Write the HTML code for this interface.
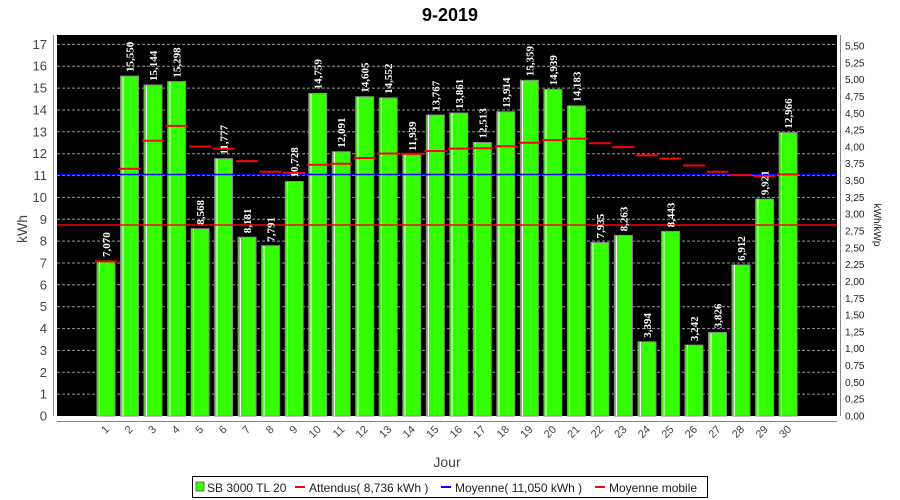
<!DOCTYPE html>
<html><head><meta charset="utf-8"><style>body{margin:0;background:#fff}svg{display:block}</style></head><body>
<svg width="900" height="500" xmlns="http://www.w3.org/2000/svg" font-family="Liberation Sans, sans-serif">
<rect width="900" height="500" fill="#fff"/>
<text x="450" y="21" text-anchor="middle" font-size="18" font-weight="bold" fill="#000">9-2019</text>
<rect x="57" y="35" width="780" height="381" fill="#000"/>
<g stroke="#999" stroke-dasharray="3,2" stroke-width="1">
<line x1="57" x2="837" y1="394.1" y2="394.1"/><line x1="57" x2="837" y1="372.3" y2="372.3"/><line x1="57" x2="837" y1="350.4" y2="350.4"/><line x1="57" x2="837" y1="328.6" y2="328.6"/><line x1="57" x2="837" y1="306.7" y2="306.7"/><line x1="57" x2="837" y1="284.8" y2="284.8"/><line x1="57" x2="837" y1="263.0" y2="263.0"/><line x1="57" x2="837" y1="241.1" y2="241.1"/><line x1="57" x2="837" y1="219.3" y2="219.3"/><line x1="57" x2="837" y1="197.4" y2="197.4"/><line x1="57" x2="837" y1="175.5" y2="175.5"/><line x1="57" x2="837" y1="153.7" y2="153.7"/><line x1="57" x2="837" y1="131.8" y2="131.8"/><line x1="57" x2="837" y1="110.0" y2="110.0"/><line x1="57" x2="837" y1="88.1" y2="88.1"/><line x1="57" x2="837" y1="66.2" y2="66.2"/><line x1="57" x2="837" y1="44.4" y2="44.4"/>
</g>
<g fill="#33ff00" stroke="#888" stroke-width="1">
<rect x="97" y="261.4" width="18" height="154.6"/><rect x="120.5" y="76.1" width="18" height="339.9"/><rect x="144" y="85" width="18" height="331"/><rect x="167.6" y="81.6" width="18" height="334.4"/><rect x="191.1" y="228.7" width="18" height="187.3"/><rect x="214.6" y="158.6" width="18" height="257.4"/><rect x="238.1" y="237.2" width="18" height="178.8"/><rect x="261.6" y="245.7" width="18" height="170.3"/><rect x="285.2" y="181.5" width="18" height="234.5"/><rect x="308.7" y="93.4" width="18" height="322.6"/><rect x="332.2" y="151.7" width="18" height="264.3"/><rect x="355.7" y="96.7" width="18" height="319.3"/><rect x="379.2" y="97.9" width="18" height="318.1"/><rect x="402.8" y="155" width="18" height="261"/><rect x="426.3" y="115" width="18" height="301"/><rect x="449.8" y="113" width="18" height="303"/><rect x="473.3" y="142.5" width="18" height="273.5"/><rect x="496.8" y="111.8" width="18" height="304.2"/><rect x="520.4" y="80.3" width="18" height="335.7"/><rect x="543.9" y="89.4" width="18" height="326.6"/><rect x="567.4" y="105.9" width="18" height="310.1"/><rect x="590.9" y="242.5" width="18" height="173.5"/><rect x="614.4" y="235.4" width="18" height="180.6"/><rect x="638" y="341.8" width="18" height="74.2"/><rect x="661.5" y="231.4" width="18" height="184.6"/><rect x="685" y="345.1" width="18" height="70.9"/><rect x="708.5" y="332.4" width="18" height="83.6"/><rect x="732" y="264.9" width="18" height="151.1"/><rect x="755.6" y="199.1" width="18" height="216.9"/><rect x="779.1" y="132.6" width="18" height="283.4"/>
</g>
<g stroke="#fff" stroke-width="1">
<line x1="99.5" x2="99.5" y1="262" y2="416"/><line x1="123" x2="123" y1="77" y2="416"/><line x1="146.5" x2="146.5" y1="86" y2="416"/><line x1="170" x2="170" y1="82" y2="416"/><line x1="193.5" x2="193.5" y1="229" y2="416"/><line x1="217" x2="217" y1="159" y2="416"/><line x1="240.5" x2="240.5" y1="238" y2="416"/><line x1="264" x2="264" y1="246" y2="416"/><line x1="287.5" x2="287.5" y1="182" y2="416"/><line x1="311" x2="311" y1="94" y2="416"/><line x1="334.5" x2="334.5" y1="152" y2="416"/><line x1="358" x2="358" y1="97" y2="416"/><line x1="381.5" x2="381.5" y1="98" y2="416"/><line x1="405" x2="405" y1="155" y2="416"/><line x1="428.5" x2="428.5" y1="115" y2="416"/><line x1="452" x2="452" y1="113" y2="416"/><line x1="475.5" x2="475.5" y1="143" y2="416"/><line x1="499" x2="499" y1="112" y2="416"/><line x1="522.5" x2="522.5" y1="81" y2="416"/><line x1="546" x2="546" y1="90" y2="416"/><line x1="569.5" x2="569.5" y1="106" y2="416"/><line x1="593" x2="593" y1="243" y2="416"/><line x1="616.5" x2="616.5" y1="236" y2="416"/><line x1="640.5" x2="640.5" y1="342" y2="416"/><line x1="664" x2="664" y1="232" y2="416"/><line x1="687.5" x2="687.5" y1="345" y2="416"/><line x1="711" x2="711" y1="333" y2="416"/><line x1="734.5" x2="734.5" y1="265" y2="416"/><line x1="758" x2="758" y1="199" y2="416"/><line x1="781.5" x2="781.5" y1="133" y2="416"/>
</g>
<line x1="57" x2="837" y1="225" y2="225" stroke="#ff0000" stroke-width="1.5"/>
<line x1="57" x2="837" y1="174.5" y2="174.5" stroke="#0000ff" stroke-width="1.5"/>
<g stroke="#ff0000" stroke-width="2">
<line x1="95" x2="117" y1="261.4" y2="261.4"/><line x1="118.5" x2="140.5" y1="168.8" y2="168.8"/><line x1="142" x2="164" y1="140.8" y2="140.8"/><line x1="165.6" x2="187.6" y1="125.9" y2="125.9"/><line x1="189.1" x2="211.1" y1="146.5" y2="146.5"/><line x1="212.6" x2="234.6" y1="148.6" y2="148.6"/><line x1="236.1" x2="258.1" y1="161.1" y2="161.1"/><line x1="259.6" x2="281.6" y1="171.8" y2="171.8"/><line x1="283.2" x2="305.2" y1="172.9" y2="172.9"/><line x1="306.7" x2="328.7" y1="164.8" y2="164.8"/><line x1="330.2" x2="352.2" y1="163.7" y2="163.7"/><line x1="353.7" x2="375.7" y1="158" y2="158"/><line x1="377.2" x2="399.2" y1="153.5" y2="153.5"/><line x1="400.8" x2="422.8" y1="153.7" y2="153.7"/><line x1="424.3" x2="446.3" y1="151" y2="151"/><line x1="447.8" x2="469.8" y1="148.6" y2="148.6"/><line x1="471.3" x2="493.3" y1="148.2" y2="148.2"/><line x1="494.8" x2="516.8" y1="146.2" y2="146.2"/><line x1="518.4" x2="540.4" y1="142.8" y2="142.8"/><line x1="541.9" x2="563.9" y1="140.1" y2="140.1"/><line x1="565.4" x2="587.4" y1="138.6" y2="138.6"/><line x1="588.9" x2="610.9" y1="143.2" y2="143.2"/><line x1="612.4" x2="634.4" y1="147.1" y2="147.1"/><line x1="636" x2="658" y1="155.4" y2="155.4"/><line x1="659.5" x2="681.5" y1="158.5" y2="158.5"/><line x1="683" x2="705" y1="165.5" y2="165.5"/><line x1="706.5" x2="728.5" y1="171.8" y2="171.8"/><line x1="730" x2="752" y1="175.1" y2="175.1"/><line x1="753.6" x2="775.6" y1="176" y2="176"/><line x1="777.1" x2="799.1" y1="174.4" y2="174.4"/>
</g>
<g fill="#fff" font-family="Liberation Serif, serif" font-weight="bold" font-size="11" text-anchor="start">
<text transform="translate(110,257) rotate(-90)">7,070</text>
<text transform="translate(133.5,72) rotate(-90)">15,550</text>
<text transform="translate(157,81) rotate(-90)">15,144</text>
<text transform="translate(180.6,77.6) rotate(-90)">15,298</text>
<text transform="translate(204.1,224.7) rotate(-90)">8,568</text>
<text transform="translate(227.6,154.6) rotate(-90)">11,777</text>
<text transform="translate(251.1,233.2) rotate(-90)">8,181</text>
<text transform="translate(274.6,241.7) rotate(-90)">7,791</text>
<text transform="translate(298.2,177.5) rotate(-90)">10,728</text>
<text transform="translate(321.7,89.4) rotate(-90)">14,759</text>
<text transform="translate(345.2,147.7) rotate(-90)">12,091</text>
<text transform="translate(368.7,92.7) rotate(-90)">14,605</text>
<text transform="translate(392.2,93.9) rotate(-90)">14,552</text>
<text transform="translate(415.8,151) rotate(-90)">11,939</text>
<text transform="translate(439.3,111) rotate(-90)">13,767</text>
<text transform="translate(462.8,109) rotate(-90)">13,861</text>
<text transform="translate(486.3,138.5) rotate(-90)">12,513</text>
<text transform="translate(509.8,107.8) rotate(-90)">13,914</text>
<text transform="translate(533.4,76.3) rotate(-90)">15,359</text>
<text transform="translate(556.9,85.4) rotate(-90)">14,939</text>
<text transform="translate(580.4,101.9) rotate(-90)">14,183</text>
<text transform="translate(603.9,238.5) rotate(-90)">7,935</text>
<text transform="translate(627.4,231.4) rotate(-90)">8,263</text>
<text transform="translate(651,337.8) rotate(-90)">3,394</text>
<text transform="translate(674.5,227.4) rotate(-90)">8,443</text>
<text transform="translate(698,341.1) rotate(-90)">3,242</text>
<text transform="translate(721.5,328.4) rotate(-90)">3,826</text>
<text transform="translate(745,260.9) rotate(-90)">6,912</text>
<text transform="translate(768.6,195.1) rotate(-90)">9,921</text>
<text transform="translate(792.1,128.6) rotate(-90)">12,966</text>
</g>
<g stroke="#888" stroke-width="1">
<line x1="53.5" x2="53.5" y1="35" y2="416"/>
<line x1="57" x2="837" y1="421.5" y2="421.5"/>
<line x1="840.5" x2="840.5" y1="35" y2="416"/>
</g>
<g fill="#444" font-size="13" text-anchor="end">
<text x="47" y="420.5">0</text><text x="47" y="398.6">1</text><text x="47" y="376.8">2</text><text x="47" y="354.9">3</text><text x="47" y="333.1">4</text><text x="47" y="311.2">5</text><text x="47" y="289.3">6</text><text x="47" y="267.5">7</text><text x="47" y="245.6">8</text><text x="47" y="223.8">9</text><text x="47" y="201.9">10</text><text x="47" y="180">11</text><text x="47" y="158.2">12</text><text x="47" y="136.3">13</text><text x="47" y="114.5">14</text><text x="47" y="92.6">15</text><text x="47" y="70.7">16</text><text x="47" y="48.9">17</text>
</g>
<g fill="#222" font-size="10">
<text x="845" y="419.5">0,00</text><text x="845" y="402.7">0,25</text><text x="845" y="385.9">0,50</text><text x="845" y="369">0,75</text><text x="845" y="352.2">1,00</text><text x="845" y="335.4">1,25</text><text x="845" y="318.6">1,50</text><text x="845" y="301.8">1,75</text><text x="845" y="285">2,00</text><text x="845" y="268.1">2,25</text><text x="845" y="251.3">2,50</text><text x="845" y="234.5">2,75</text><text x="845" y="217.7">3,00</text><text x="845" y="200.9">3,25</text><text x="845" y="184.1">3,50</text><text x="845" y="167.2">3,75</text><text x="845" y="150.4">4,00</text><text x="845" y="133.6">4,25</text><text x="845" y="116.8">4,50</text><text x="845" y="100">4,75</text><text x="845" y="83.2">5,00</text><text x="845" y="66.3">5,25</text><text x="845" y="49.5">5,50</text>
</g>
<g fill="#444" font-size="11" text-anchor="end">
<text transform="translate(110,430) rotate(-45)">1</text><text transform="translate(133.5,430) rotate(-45)">2</text><text transform="translate(157,430) rotate(-45)">3</text><text transform="translate(180.6,430) rotate(-45)">4</text><text transform="translate(204.1,430) rotate(-45)">5</text><text transform="translate(227.6,430) rotate(-45)">6</text><text transform="translate(251.1,430) rotate(-45)">7</text><text transform="translate(274.6,430) rotate(-45)">8</text><text transform="translate(298.2,430) rotate(-45)">9</text><text transform="translate(321.7,430) rotate(-45)">10</text><text transform="translate(345.2,430) rotate(-45)">11</text><text transform="translate(368.7,430) rotate(-45)">12</text><text transform="translate(392.2,430) rotate(-45)">13</text><text transform="translate(415.8,430) rotate(-45)">14</text><text transform="translate(439.3,430) rotate(-45)">15</text><text transform="translate(462.8,430) rotate(-45)">16</text><text transform="translate(486.3,430) rotate(-45)">17</text><text transform="translate(509.8,430) rotate(-45)">18</text><text transform="translate(533.4,430) rotate(-45)">19</text><text transform="translate(556.9,430) rotate(-45)">20</text><text transform="translate(580.4,430) rotate(-45)">21</text><text transform="translate(603.9,430) rotate(-45)">22</text><text transform="translate(627.4,430) rotate(-45)">23</text><text transform="translate(651,430) rotate(-45)">24</text><text transform="translate(674.5,430) rotate(-45)">25</text><text transform="translate(698,430) rotate(-45)">26</text><text transform="translate(721.5,430) rotate(-45)">27</text><text transform="translate(745,430) rotate(-45)">28</text><text transform="translate(768.6,430) rotate(-45)">29</text><text transform="translate(792.1,430) rotate(-45)">30</text>
</g>
<text x="447" y="467" text-anchor="middle" font-size="14" fill="#444">Jour</text>
<text transform="translate(27,229) rotate(-90)" text-anchor="middle" font-size="14" fill="#444">kWh</text>
<text transform="translate(874,225) rotate(90)" text-anchor="middle" font-size="10" fill="#222">kWh/kWp</text>
<rect x="192.5" y="476.5" width="515" height="21" fill="#fff" stroke="#000"/>
<rect x="196" y="482" width="8" height="9" fill="#33ff00" stroke="#555" stroke-width="0.8"/>
<g font-size="12" fill="#222">
<text x="207" y="492">SB 3000 TL 20</text>
<line x1="295" x2="305" y1="487" y2="487" stroke="#ff0000" stroke-width="2"/>
<text x="309" y="492">Attendus( 8,736 kWh )</text>
<line x1="441" x2="451" y1="487" y2="487" stroke="#0000ff" stroke-width="2"/>
<text x="455" y="492">Moyenne( 11,050 kWh )</text>
<line x1="595" x2="605" y1="487" y2="487" stroke="#ff0000" stroke-width="2"/>
<text x="609" y="492">Moyenne mobile</text>
</g>
</svg>
</body></html>
